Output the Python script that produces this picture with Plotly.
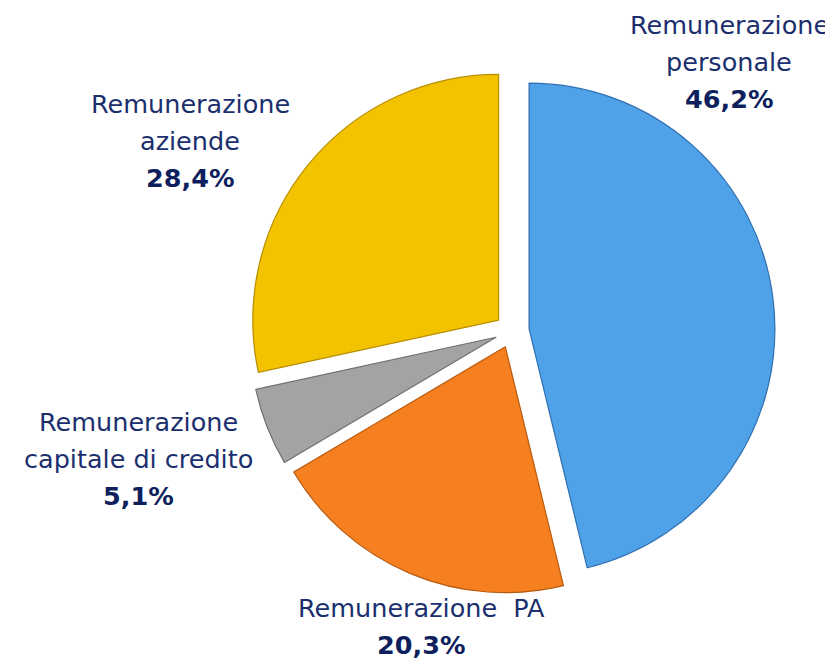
import plotly.graph_objects as go

labels = ["Remunerazione<br>personale", "Remunerazione  PA", "Remunerazione<br>capitale di credito", "Remunerazione<br>aziende"]
values = [46.2, 20.3, 5.1, 28.4]
colors = ["#4FA1E8", "#F6801F", "#A3A3A3", "#F4C300"]
edge_colors = ["#2F6FB0", "#B85A10", "#707070", "#B88F00"]

# plot area in pixels (styling only)
PL, PT, PW, PH = 241, 60, 526, 526
# label line centres in pixels: (x centre, y of first line), line spacing
label_px = [(721, 17), (413, 600), (130, 414), (182, 96)]
LINE = 37.0

fig = go.Figure()
fig.add_trace(go.Pie(
    labels=labels,
    values=values,
    sort=False,
    direction="clockwise",
    rotation=0,
    pull=[0.07] * len(values),
    textinfo="none",
    hoverinfo="label+percent",
    marker=dict(colors=colors, line=dict(color=edge_colors, width=1.2)),
    showlegend=False,
    domain=dict(x=[0, 1], y=[0, 1]),
))


def add_line(text, px, py, bold=False):
    fig.add_annotation(
        x=(px - PL) / PW, y=(PT + PH - py) / PH, xref="paper", yref="paper",
        text=f"<b>{text}</b>" if bold else text, showarrow=False,
        font=dict(family="DejaVu Sans", size=25.5,
                  color="#0E1F5E" if bold else "#1B2F6E"),
        align="center", xanchor="center", yanchor="middle",
        borderpad=0,
    )


for lab, val, (px, py) in zip(labels, values, label_px):
    lines = lab.split("<br>")
    for i, ln in enumerate(lines):
        add_line(ln, px, py + i * LINE)
    pct = f"{val:.1f}%".replace(".", ",")
    add_line(pct, px, py + len(lines) * LINE, bold=True)

fig.update_layout(
    width=833, height=660,
    margin=dict(l=PL, r=833 - PL - PW, t=PT, b=660 - PT - PH),
    paper_bgcolor="white", plot_bgcolor="white",
)

fig.write_html("out.html")
